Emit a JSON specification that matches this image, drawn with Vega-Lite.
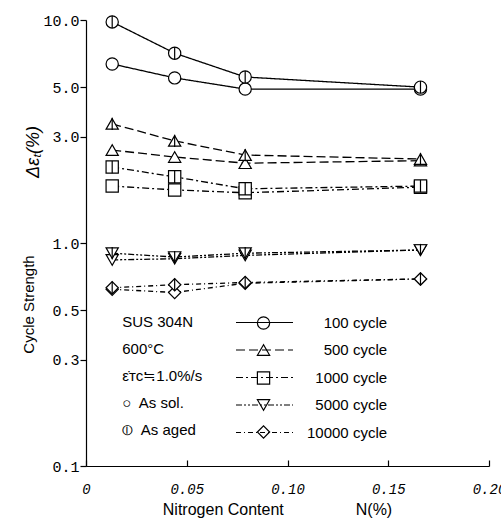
{
  "$schema": "https://vega.github.io/schema/vega-lite/v6.json",
  "width": 403,
  "height": 446,
  "autosize": {"type": "none"},
  "padding": {"left": 86, "top": 20, "right": 12, "bottom": 52},
  "background": "white",
  "config": {
    "view": {"stroke": null},
    "font": "Liberation Sans",
    "axis": {"domainColor": "black", "tickColor": "black", "labelColor": "black", "titleColor": "black", "grid": false, "domainWidth": 1.2, "tickWidth": 1.2, "labelFlush": false, "labelOverlap": false}
  },
  "data": {
    "values": [
      {"N": 0.013, "value": 6.35, "cycle": 100, "condition": "As sol."},
      {"N": 0.044, "value": 5.5, "cycle": 100, "condition": "As sol."},
      {"N": 0.079, "value": 4.9, "cycle": 100, "condition": "As sol."},
      {"N": 0.166, "value": 4.9, "cycle": 100, "condition": "As sol."},
      {"N": 0.013, "value": 9.8, "cycle": 100, "condition": "As aged"},
      {"N": 0.044, "value": 7.1, "cycle": 100, "condition": "As aged"},
      {"N": 0.079, "value": 5.55, "cycle": 100, "condition": "As aged"},
      {"N": 0.166, "value": 5.0, "cycle": 100, "condition": "As aged"},
      {"N": 0.013, "value": 2.61, "cycle": 500, "condition": "As sol."},
      {"N": 0.044, "value": 2.43, "cycle": 500, "condition": "As sol."},
      {"N": 0.079, "value": 2.28, "cycle": 500, "condition": "As sol."},
      {"N": 0.166, "value": 2.34, "cycle": 500, "condition": "As sol."},
      {"N": 0.013, "value": 3.42, "cycle": 500, "condition": "As aged"},
      {"N": 0.044, "value": 2.87, "cycle": 500, "condition": "As aged"},
      {"N": 0.079, "value": 2.48, "cycle": 500, "condition": "As aged"},
      {"N": 0.166, "value": 2.38, "cycle": 500, "condition": "As aged"},
      {"N": 0.013, "value": 1.8, "cycle": 1000, "condition": "As sol."},
      {"N": 0.044, "value": 1.73, "cycle": 1000, "condition": "As sol."},
      {"N": 0.079, "value": 1.68, "cycle": 1000, "condition": "As sol."},
      {"N": 0.166, "value": 1.78, "cycle": 1000, "condition": "As sol."},
      {"N": 0.013, "value": 2.19, "cycle": 1000, "condition": "As aged"},
      {"N": 0.044, "value": 1.98, "cycle": 1000, "condition": "As aged"},
      {"N": 0.079, "value": 1.75, "cycle": 1000, "condition": "As aged"},
      {"N": 0.166, "value": 1.8, "cycle": 1000, "condition": "As aged"},
      {"N": 0.013, "value": 0.84, "cycle": 5000, "condition": "As sol."},
      {"N": 0.044, "value": 0.85, "cycle": 5000, "condition": "As sol."},
      {"N": 0.079, "value": 0.88, "cycle": 5000, "condition": "As sol."},
      {"N": 0.166, "value": 0.93, "cycle": 5000, "condition": "As sol."},
      {"N": 0.013, "value": 0.9, "cycle": 5000, "condition": "As aged"},
      {"N": 0.044, "value": 0.865, "cycle": 5000, "condition": "As aged"},
      {"N": 0.079, "value": 0.9, "cycle": 5000, "condition": "As aged"},
      {"N": 0.166, "value": 0.93, "cycle": 5000, "condition": "As aged"},
      {"N": 0.013, "value": 0.62, "cycle": 10000, "condition": "As sol."},
      {"N": 0.044, "value": 0.6, "cycle": 10000, "condition": "As sol."},
      {"N": 0.079, "value": 0.66, "cycle": 10000, "condition": "As sol."},
      {"N": 0.166, "value": 0.69, "cycle": 10000, "condition": "As sol."},
      {"N": 0.013, "value": 0.63, "cycle": 10000, "condition": "As aged"},
      {"N": 0.044, "value": 0.65, "cycle": 10000, "condition": "As aged"},
      {"N": 0.079, "value": 0.665, "cycle": 10000, "condition": "As aged"},
      {"N": 0.166, "value": 0.69, "cycle": 10000, "condition": "As aged"}
    ]
  },
  "layer": [
    {
      "mark": {"type": "line", "color": "black", "strokeWidth": 1.3},
      "encoding": {
        "x": {
          "field": "N", "type": "quantitative",
          "scale": {"domain": [0, 0.2], "nice": false, "zero": false},
          "axis": {
            "title": "Nitrogen Content\u2003\u2003\u2003\u2003\u2002N(%)",
            "values": [0, 0.05, 0.1, 0.15, 0.2],
            "labelExpr": "datum.value == 0 ? '0' : format(datum.value, '.2f')",
            "labelFont": "Liberation Mono", "labelFontStyle": "italic", "labelFontSize": 14,
            "tickSize": -6, "labelPadding": 22,
            "titleFont": "Liberation Sans", "titleFontSize": 16, "titleFontWeight": "normal",
            "titleX": 191, "titleY": 43, "titleAlign": "center", "titleBaseline": "middle"
          }
        },
        "y": {
          "field": "value", "type": "quantitative",
          "scale": {"type": "log", "domain": [0.1, 10], "nice": false},
          "axis": {
            "title": "Cycle Strength",
            "values": [0.1, 0.3, 0.5, 1, 3, 5, 10],
            "format": ".1f",
            "labelFont": "Liberation Mono", "labelFontSize": 15,
            "tickSize": 6, "labelPadding": 1,
            "titleFont": "Liberation Sans", "titleFontSize": 15, "titleFontWeight": "normal",
            "titleAngle": 270, "titleX": -58, "titleY": 284, "titleAlign": "center", "titleBaseline": "middle"
          }
        },
        "strokeDash": {
          "field": "cycle", "type": "nominal",
          "scale": {"domain": [100, 500, 1000, 5000, 10000], "range": [[1, 0], [9, 4], [7, 3, 2, 3], [6, 2, 2, 2, 2, 2], [5, 3, 1, 3]]},
          "legend": {
            "title": null, "orient": "none", "legendX": 149, "legendY": 295,
            "symbolType": "stroke", "symbolSize": 3249, "symbolStrokeWidth": 1.2, "symbolStrokeColor": "black",
            "labelFont": "Liberation Sans", "labelFontSize": 15, "labelColor": "black", "labelOffset": 13,
            "rowPadding": 11.5, "padding": 0, "clipHeight": 15,
            "labelExpr": "'\u200b' + (length(datum.label) == 3 ? '\u2007\u2007' : length(datum.label) == 4 ? '\u2007' : '') + datum.label + ' cycle'"
          }
        },
        "detail": {"field": "condition", "type": "nominal"}
      }
    },
    {
      "mark": {"type": "point", "filled": true, "fill": "white", "stroke": "black", "strokeWidth": 1.2, "size": 150, "opacity": 1},
      "encoding": {
        "x": {"field": "N", "type": "quantitative"},
        "y": {"field": "value", "type": "quantitative"},
        "shape": {
          "field": "cycle", "type": "ordinal",
          "scale": {"range": ["circle", "triangle-up", "square", "triangle-down", "diamond"]},
          "legend": null
        }
      }
    },
    {
      "transform": [{"filter": "datum.condition == 'As aged'"}],
      "mark": {"type": "point", "shape": "M0,-1L0,1", "filled": false, "color": "black", "strokeWidth": 1.2, "size": 150, "opacity": 1},
      "encoding": {
        "x": {"field": "N", "type": "quantitative"},
        "y": {"field": "value", "type": "quantitative"}
      }
    },
    {
      "data": {"values": [{"note": "legend 100"}]},
      "mark": {"type": "point", "shape": "circle", "filled": true, "fill": "white", "stroke": "black", "strokeWidth": 1.2, "size": 150, "opacity": 1},
      "encoding": {"x": {"datum": 0.0881}, "y": {"datum": 0.4378}}
    },
    {
      "data": {"values": [{"note": "legend 500"}]},
      "mark": {"type": "point", "shape": "triangle-up", "filled": true, "fill": "white", "stroke": "black", "strokeWidth": 1.2, "size": 150, "opacity": 1},
      "encoding": {"x": {"datum": 0.0881}, "y": {"datum": 0.3313}}
    },
    {
      "data": {"values": [{"note": "legend 1000"}]},
      "mark": {"type": "point", "shape": "square", "filled": true, "fill": "white", "stroke": "black", "strokeWidth": 1.2, "size": 150, "opacity": 1},
      "encoding": {"x": {"datum": 0.0881}, "y": {"datum": 0.2481}}
    },
    {
      "data": {"values": [{"note": "legend 5000"}]},
      "mark": {"type": "point", "shape": "triangle-down", "filled": true, "fill": "white", "stroke": "black", "strokeWidth": 1.2, "size": 150, "opacity": 1},
      "encoding": {"x": {"datum": 0.0881}, "y": {"datum": 0.1877}}
    },
    {
      "data": {"values": [{"note": "legend 10000"}]},
      "mark": {"type": "point", "shape": "diamond", "filled": true, "fill": "white", "stroke": "black", "strokeWidth": 1.2, "size": 150, "opacity": 1},
      "encoding": {"x": {"datum": 0.0881}, "y": {"datum": 0.1421}}
    },
    {
      "data": {"values": [{"note": "conditions"}]},
      "mark": {"type": "text", "font": "Liberation Sans", "fontSize": 15, "color": "black", "align": "left", "baseline": "middle", "lineHeight": 27},
      "encoding": {
        "x": {"datum": 0.018},
        "y": {"datum": 0.4422},
        "text": {"value": ["SUS 304N", "600°C", "ε̇ᴛᴄ≒1.0%/s", "○\u2002As sol.", "⦶\u2002As aged"]}
      }
    },
    {
      "data": {"values": [{"note": "ylabel"}]},
      "mark": {"type": "text", "font": "Liberation Sans", "fontSize": 18, "fontStyle": "italic", "color": "black", "align": "center", "baseline": "middle", "angle": 270},
      "encoding": {
        "x": {"datum": -0.0258},
        "y": {"datum": 2.56},
        "text": {"value": "Δεₜ(%)"}
      }
    }
  ]
}
